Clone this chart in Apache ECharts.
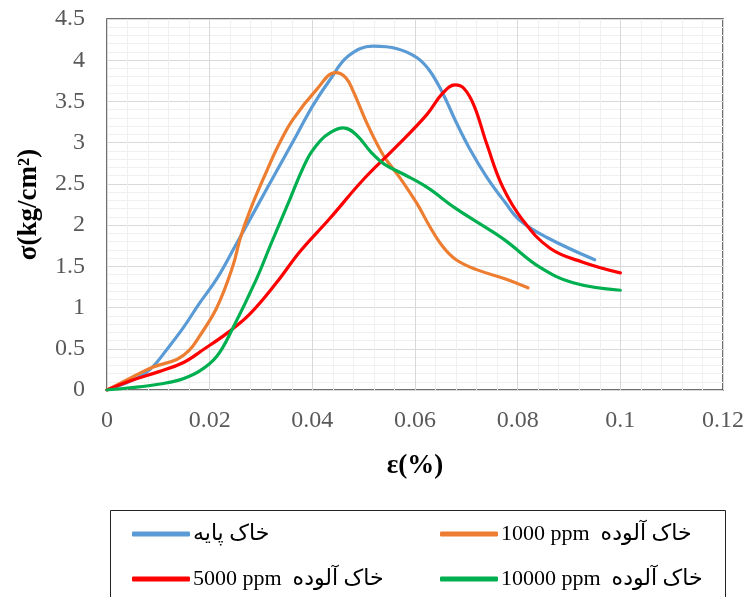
<!DOCTYPE html>
<html><head><meta charset="utf-8">
<script src="https://cdn.jsdelivr.net/npm/echarts@6/dist/echarts.min.js"></script>
<style>html,body{margin:0;padding:0;background:#fff}#c{width:749px;height:597px}</style>
</head><body><div id="c"></div>
<script>
const xTicks = [0, 0.02, 0.04, 0.06, 0.08, 0.1, 0.12];
const yTicks = [0, 0.5, 1, 1.5, 2, 2.5, 3, 3.5, 4, 4.5];
const seriesNames = ['خاک پایه', '1000 ppm  خاک آلوده', '5000 ppm  خاک آلوده', '10000 ppm  خاک آلوده'];
const baseSoil = [[0,0],[0.005,0.12],[0.0084,0.25],[0.012,0.52],[0.0148,0.75],[0.018,1.05],[0.0214,1.35],[0.025,1.75],[0.029,2.2],[0.033,2.65],[0.037,3.1],[0.0401,3.45],[0.0434,3.76],[0.047,4.05],[0.0518,4.17],[0.0565,4.14],[0.0604,4.03],[0.0629,3.87],[0.0654,3.6],[0.068,3.25],[0.0707,2.92],[0.074,2.58],[0.0775,2.28],[0.0804,2.06],[0.0857,1.85],[0.095,1.58]];
const ppm1000 = [[0,0],[0.005,0.16],[0.009,0.28],[0.0136,0.37],[0.016,0.48],[0.018,0.65],[0.0214,1.0],[0.0245,1.5],[0.026,1.85],[0.028,2.2],[0.031,2.64],[0.0335,2.98],[0.0362,3.28],[0.0409,3.65],[0.0445,3.85],[0.0465,3.79],[0.048,3.62],[0.0506,3.24],[0.0538,2.85],[0.057,2.58],[0.0604,2.26],[0.0629,1.98],[0.0654,1.74],[0.068,1.58],[0.072,1.46],[0.0775,1.35],[0.082,1.24]];
const ppm5000 = [[0,0],[0.005,0.12],[0.01,0.22],[0.0148,0.33],[0.019,0.5],[0.0234,0.69],[0.0278,0.92],[0.033,1.3],[0.0376,1.68],[0.0434,2.08],[0.0499,2.55],[0.0565,2.96],[0.0623,3.34],[0.0654,3.6],[0.0678,3.7],[0.0695,3.66],[0.0715,3.45],[0.074,2.98],[0.0771,2.46],[0.081,2.06],[0.0863,1.72],[0.0927,1.55],[0.1,1.42]];
const ppm10000 = [[0,0],[0.005,0.03],[0.01,0.07],[0.014,0.12],[0.018,0.23],[0.0214,0.41],[0.0245,0.75],[0.029,1.33],[0.032,1.78],[0.035,2.22],[0.039,2.8],[0.0415,3.02],[0.0434,3.12],[0.046,3.18],[0.0485,3.1],[0.0515,2.88],[0.054,2.74],[0.0577,2.62],[0.0623,2.46],[0.068,2.2],[0.0746,1.94],[0.0779,1.8],[0.0843,1.49],[0.0908,1.3],[0.1,1.21]];
const colors = ['#5B9BD5', '#ED7D31', '#FF0000', '#00B050'];
const allData = [baseSoil, ppm1000, ppm5000, ppm10000];

const chart = echarts.init(document.getElementById('c'), null, {renderer: 'canvas'});
const font = "'Liberation Serif', 'Times New Roman', serif";
const legendPos = [[127, 518], [435, 518], [127, 563], [435, 563]];
const legends = seriesNames.map((n, i) => ({
  data: [n], left: legendPos[i][0], top: legendPos[i][1],
  itemWidth: 58, itemHeight: 5, icon: 'roundRect', itemGap: 4,
  textStyle: {fontFamily: "'Liberation Serif','DejaVu Sans',serif", fontSize: 22, color: '#000', padding: [0, 0, 0, -2]}
}));
chart.setOption({
  animation: false,
  color: colors,
  grid: {left: 107, top: 19, right: 26, bottom: 207, show: true, borderColor: '#404040', borderWidth: 1.5},
  legend: legends,
  graphic: [{type: 'rect', shape: {x: 110.5, y: 510.5, width: 615, height: 100}, style: {fill: 'none', stroke: '#222', lineWidth: 1}, silent: true}],
  xAxis: {
    type: 'value', min: xTicks[0], max: xTicks[xTicks.length - 1], interval: 0.02,
    name: 'ε(%)', nameLocation: 'middle', nameGap: 63,
    nameTextStyle: {fontFamily: font, fontSize: 27, fontWeight: 'bold', color: '#000'},
    axisLine: {show: false}, axisTick: {show: false},
    axisLabel: {fontFamily: font, fontSize: 24, color: '#595959', margin: 19, formatter: v => String(+v.toFixed(2))},
    splitLine: {show: true, lineStyle: {color: '#d9d9d9', width: 1}},
    minorTick: {show: false, splitNumber: 5},
    minorSplitLine: {show: true, lineStyle: {color: '#f0f0f0', width: 1}}
  },
  yAxis: {
    type: 'value', min: yTicks[0], max: yTicks[yTicks.length - 1], interval: 0.5,
    name: 'σ(kg/cm²)', nameLocation: 'middle', nameGap: 64,
    nameTextStyle: {fontFamily: font, fontSize: 27, fontWeight: 'bold', color: '#000'},
    axisLine: {show: false}, axisTick: {show: false},
    axisLabel: {fontFamily: font, fontSize: 24, color: '#595959', margin: 22, formatter: v => String(+v.toFixed(1))},
    splitLine: {show: true, lineStyle: {color: '#d9d9d9', width: 1}},
    minorTick: {show: false, splitNumber: 5},
    minorSplitLine: {show: true, lineStyle: {color: '#f0f0f0', width: 1}}
  },
  series: allData.map((d, i) => ({
    name: seriesNames[i], type: 'line', data: d, smooth: 0.4, showSymbol: false, symbol: 'none',
    lineStyle: {color: colors[i], width: 3.2, cap: 'round'}, itemStyle: {color: colors[i]}
  }))
});
</script></body></html>
